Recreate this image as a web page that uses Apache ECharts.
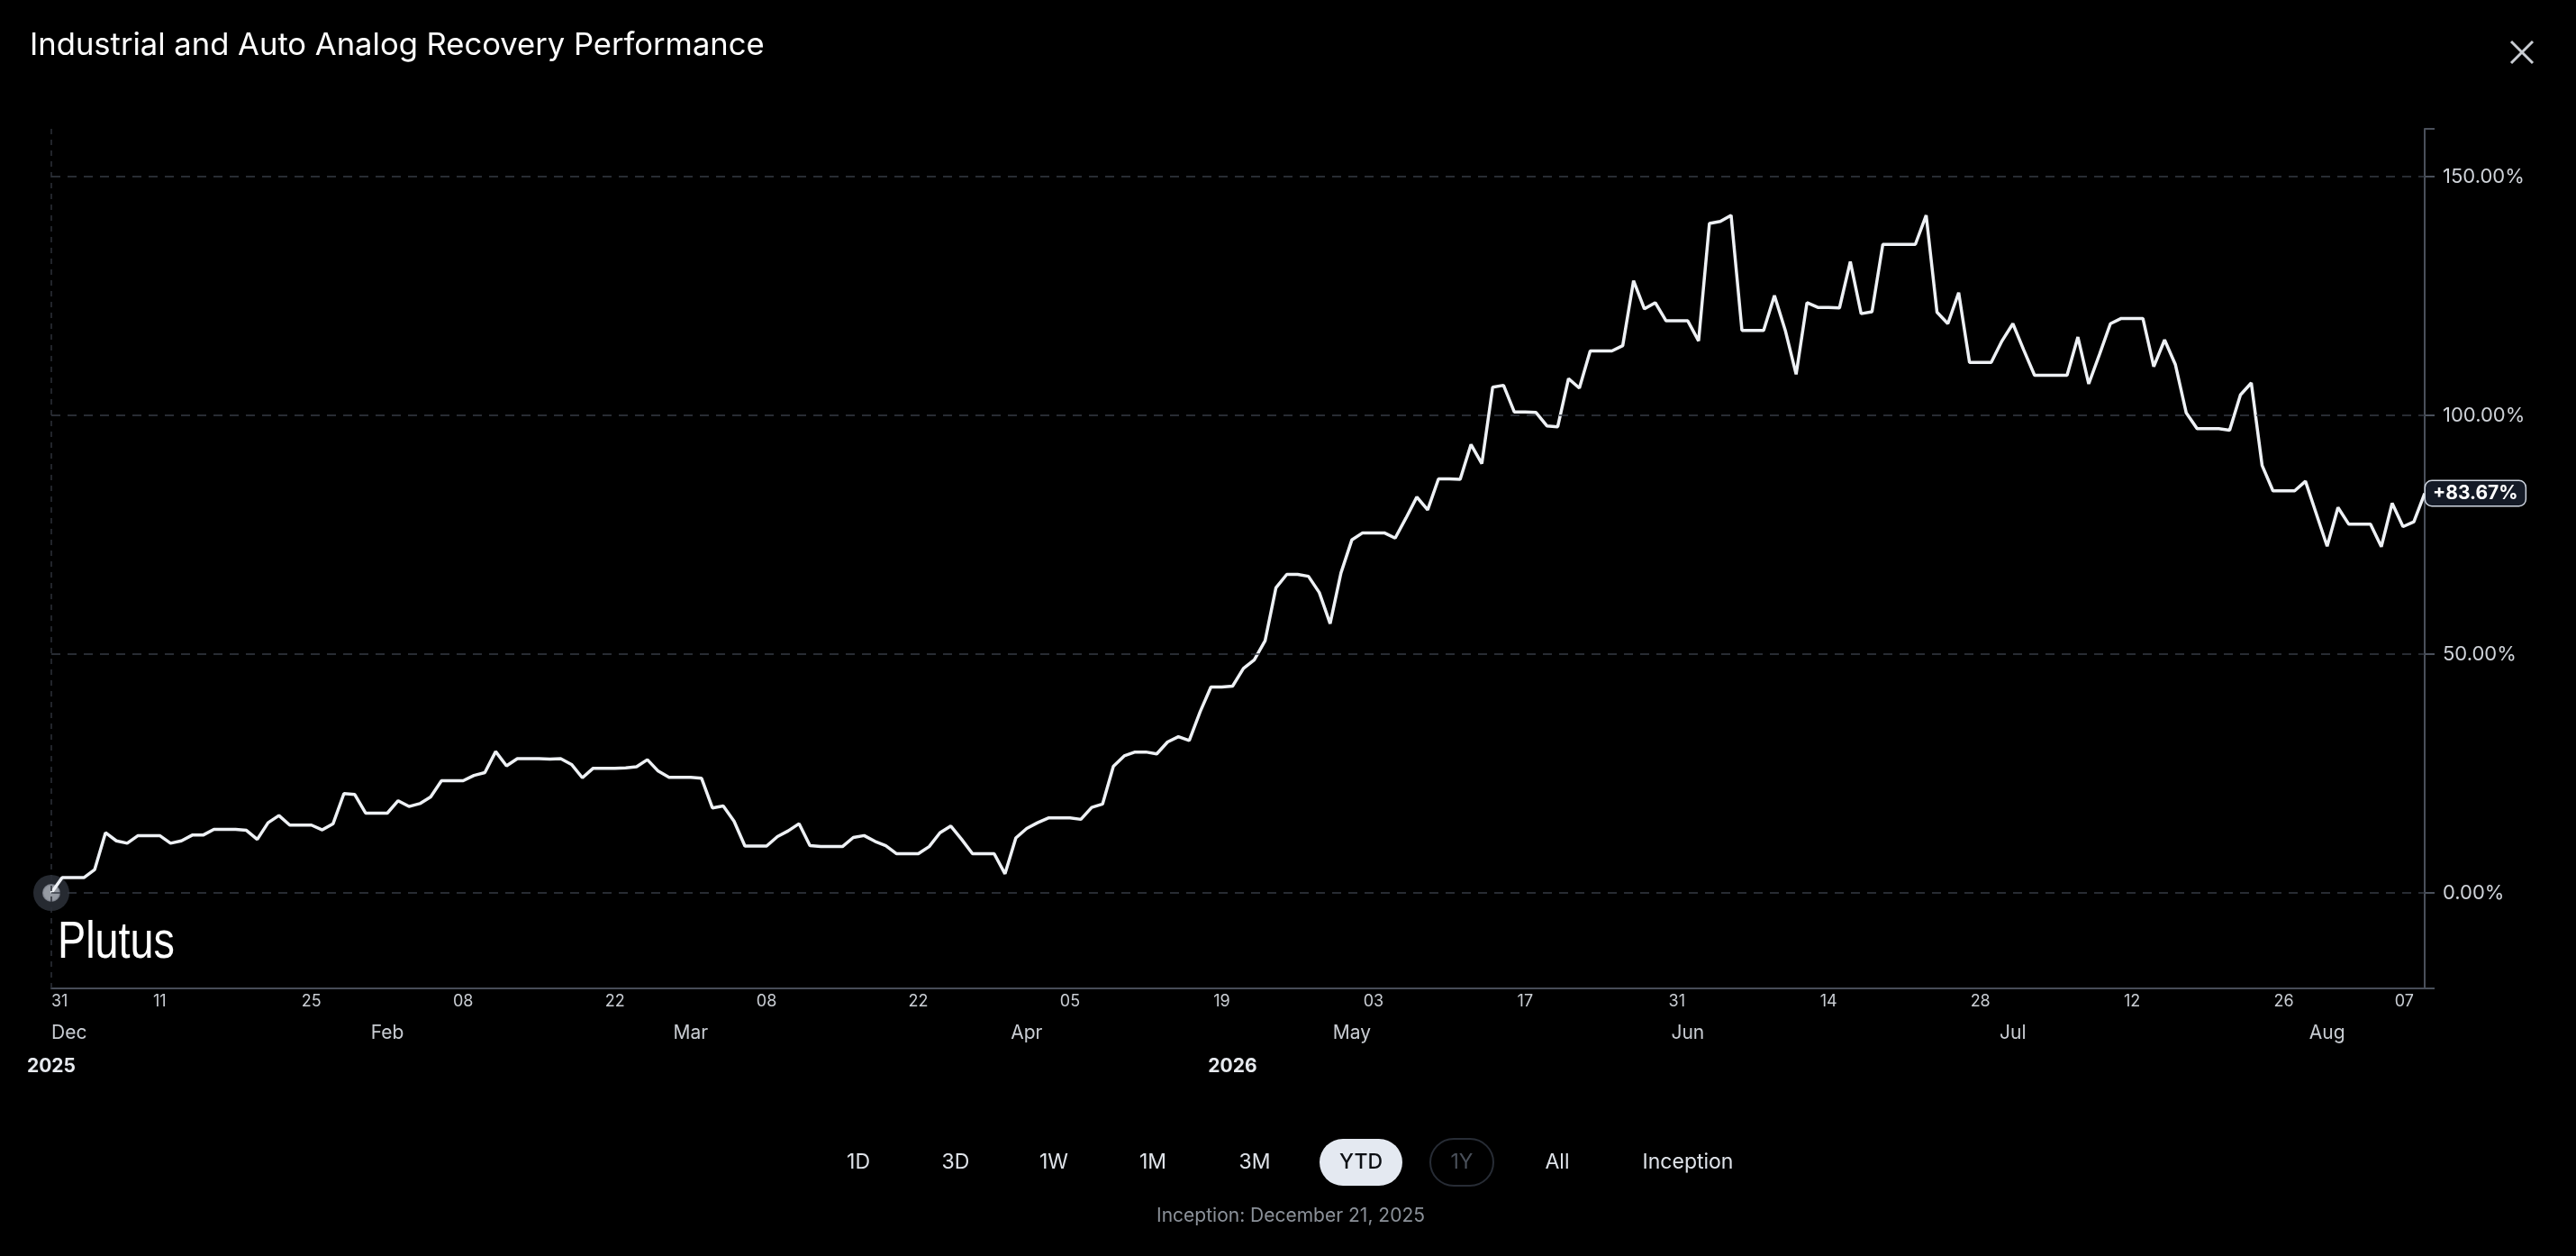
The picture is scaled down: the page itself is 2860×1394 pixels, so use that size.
<!DOCTYPE html>
<html><head><meta charset="utf-8">
<script src="https://cdn.jsdelivr.net/npm/echarts@6/dist/echarts.min.js"></script>
<style>html,body{margin:0;padding:0;background:#000;}#c{width:2860px;height:1394px;}</style>
</head><body><div id="c"></div>
<script>
const chartTitle = 'Industrial and Auto Analog Recovery Performance';
const firstDate = '2026-01-01';
const perfValues = [
  0, 3.2, 3.2, 3.2, 4.9, 12.6, 10.9, 10.4, 12.0, 12.0,
  12.0, 10.4, 10.9, 12.1, 12.1, 13.3, 13.3, 13.3, 13.1, 11.2,
  14.7, 16.2, 14.2, 14.2, 14.2, 13.2, 14.5, 20.8, 20.6, 16.7,
  16.7, 16.7, 19.3, 18.1, 18.7, 20.1, 23.5, 23.5, 23.5, 24.6,
  25.2, 29.6, 26.6, 28.1, 28.1, 28.1, 28.0, 28.1, 26.9, 24.1,
  26.1, 26.1, 26.1, 26.2, 26.4, 27.9, 25.5, 24.2, 24.2, 24.2,
  24.0, 17.8, 18.2, 15.0, 9.8, 9.8, 9.8, 11.8, 13.0, 14.5,
  9.9, 9.7, 9.7, 9.7, 11.6, 12.0, 10.8, 9.9, 8.2, 8.2,
  8.2, 9.7, 12.6, 14.0, 11.2, 8.2, 8.2, 8.2, 4.0, 11.5,
  13.5, 14.7, 15.7, 15.7, 15.7, 15.4, 17.9, 18.6, 26.5, 28.7,
  29.5, 29.5, 29.1, 31.6, 32.7, 31.9, 37.9, 43.1, 43.1, 43.3,
  47.0, 48.8, 52.8, 63.9, 66.7, 66.7, 66.3, 62.9, 56.4, 67.0,
  73.9, 75.4, 75.4, 75.4, 74.3, 78.5, 82.9, 80.2, 86.7, 86.7,
  86.6, 93.9, 89.9, 105.9, 106.3, 100.7, 100.7, 100.6, 97.8, 97.6,
  107.7, 105.7, 113.5, 113.5, 113.5, 114.6, 128.2, 122.3, 123.6, 119.8,
  119.8, 119.8, 115.6, 140.2, 140.6, 141.9, 117.8, 117.8, 117.8, 125.1,
  117.8, 108.6, 123.6, 122.6, 122.6, 122.5, 132.2, 121.3, 121.7, 135.8,
  135.8, 135.8, 135.8, 141.9, 121.6, 119.2, 125.7, 111.1, 111.1, 111.1,
  115.6, 119.2, 113.7, 108.4, 108.4, 108.4, 108.4, 116.4, 106.6, 112.8,
  119.2, 120.3, 120.3, 120.3, 110.2, 115.8, 110.6, 100.5, 97.2, 97.2,
  97.2, 96.9, 104.3, 106.8, 89.5, 84.2, 84.2, 84.2, 86.2, 79.4,
  72.6, 80.7, 77.2, 77.2, 77.2, 72.5, 81.6, 76.7, 77.7, 83.67
];
const dayTickDates = ['2026-01-01','2026-01-11','2026-01-25','2026-02-08','2026-02-22','2026-03-08','2026-03-22','2026-04-05','2026-04-19','2026-05-03','2026-05-17','2026-05-31','2026-06-14','2026-06-28','2026-07-12','2026-07-26','2026-08-07'];
const dayTickLabels = ['31','11','25','08','22','08','22','05','19','03','17','31','14','28','12','26','07'];
const monthTickDates = ['2026-01-01','2026-02-01','2026-03-01','2026-04-01','2026-05-01','2026-06-01','2026-07-01','2026-07-30'];
const monthTickLabels = ['Dec','Feb','Mar','Apr','May','Jun','Jul','Aug'];
const yearTickDates = ['2026-01-01','2026-04-20'];
const yearTickLabels = ['2025','2026'];
const yLabelValues = [0, 50, 100, 150];
const yTickValues = [-20, 0, 50, 100, 150, 160];
const rangeButtons = ['1D','3D','1W','1M','3M','YTD','1Y','All','Inception'];
const activeButton = 'YTD';
const disabledButton = '1Y';
const inceptionText = 'Inception: December 21, 2025';
const watermark = 'Plutus';

function ts(s) { const p = s.split('-').map(Number); return new Date(p[0], p[1] - 1, p[2]).getTime(); }
const fp = firstDate.split('-').map(Number);
const seriesData = perfValues.map((v, i) => [new Date(fp[0], fp[1] - 1, fp[2] + i).getTime(), v]);
const minTs = seriesData[0][0];
const maxTs = seriesData[seriesData.length - 1][0];
function lookup(dates, labels) { const m = {}; dates.forEach((d, i) => { m[ts(d)] = labels[i]; }); return m; }
const dayMap = lookup(dayTickDates, dayTickLabels);
const monthMap = lookup(monthTickDates, monthTickLabels);
const yearMap = lookup(yearTickDates, yearTickLabels);

const FONT = 'Inter, "Noto Sans", sans-serif';
const btnX = [953, 1061, 1170, 1280, 1393, 1511, 1623, 1729, 1874];
const btnY = 1290;
const graphics = [];
rangeButtons.forEach((b, i) => {
  if (b === activeButton) {
    graphics.push({ type: 'rect', shape: { x: btnX[i] - 46, y: btnY - 26, width: 92, height: 52, r: 26 }, style: { fill: '#e4e9f1' }, z: 10 });
  } else if (b === disabledButton) {
    graphics.push({ type: 'rect', shape: { x: btnX[i] - 35, y: btnY - 26, width: 70, height: 52, r: 26 }, style: { fill: 'transparent', stroke: '#272c35', lineWidth: 2 }, z: 10 });
  }
  graphics.push({ type: 'text', z: 11, style: { text: b, x: btnX[i], y: btnY, align: 'center', verticalAlign: 'middle',
    fill: b === activeButton ? '#0c0f14' : (b === disabledButton ? '#4a505a' : '#dfe3e9'),
    font: (b === activeButton ? '500 ' : 'normal ') + '23px ' + FONT } });
});
graphics.push({ type: 'text', z: 11, style: { text: inceptionText, x: 1433, y: 1350, align: 'center', verticalAlign: 'middle', fill: '#8b9199', font: 'normal 21px ' + FONT } });
graphics.push({ type: 'text', z: 11, x: 64, y: 1047, scaleX: 0.82, scaleY: 1, style: { text: watermark, x: 0, y: 0, align: 'left', verticalAlign: 'middle', fill: '#ffffff', font: 'normal 57px "Liberation Sans", Arial, sans-serif' } });
graphics.push({ type: 'line', z: 11, shape: { x1: 2788, y1: 46, x2: 2812, y2: 70 }, style: { stroke: '#c9cdd3', lineWidth: 3 } });
graphics.push({ type: 'line', z: 11, shape: { x1: 2812, y1: 46, x2: 2788, y2: 70 }, style: { stroke: '#c9cdd3', lineWidth: 3 } });

const chart = echarts.init(document.getElementById('c'), null, { renderer: 'canvas' });
const axisBase = { type: 'value', min: minTs, max: maxTs, gridIndex: 0, position: 'bottom', scale: true, splitLine: { show: false }, axisTick: { show: false } };
chart.setOption({
  backgroundColor: '#000000',
  animation: false,
  title: { text: chartTitle, left: 28, top: 28, textStyle: { color: '#ffffff', fontSize: 34.6, fontWeight: 'normal', fontFamily: FONT } },
  grid: { left: 57, right: 168, top: 143, bottom: 297, containLabel: false },
  xAxis: [
    Object.assign({}, axisBase, {
      axisLine: { show: true, onZero: false, lineStyle: { color: '#474c57', width: 2 } },
      axisLabel: { customValues: dayTickDates.map(ts), formatter: v => dayMap[v] || '', color: '#c9cdd3', fontSize: 18, fontFamily: FONT, margin: 6, alignMinLabel: 'left', alignMaxLabel: 'right', hideOverlap: false }
    }),
    Object.assign({}, axisBase, {
      axisLine: { show: false, onZero: false },
      axisLabel: { customValues: monthTickDates.map(ts), formatter: v => monthMap[v] || '', color: '#c9cdd3', fontSize: 21, fontFamily: FONT, margin: 39, alignMinLabel: 'left', hideOverlap: false }
    }),
    Object.assign({}, axisBase, {
      axisLine: { show: false, onZero: false },
      axisLabel: { customValues: yearTickDates.map(ts), formatter: v => yearMap[v] || '', color: '#e6e9ee', fontSize: 21, fontWeight: 'bold', fontFamily: FONT, margin: 76, hideOverlap: false }
    })
  ],
  yAxis: {
    type: 'value', position: 'right', min: -20, max: 160,
    axisLine: { show: true, onZero: false, lineStyle: { color: '#4a505b', width: 2 } },
    axisTick: { show: true, customValues: yTickValues, length: 11, lineStyle: { color: '#4a505b', width: 2 } },
    axisLabel: { customValues: yLabelValues, formatter: v => v.toFixed(2) + '%', color: '#cfd3d9', fontSize: 22, fontFamily: FONT, margin: 20 },
    splitLine: { show: false }
  },
  graphic: graphics,
  series: [
    {
      type: 'scatter', xAxisIndex: 0, data: [seriesData[0]], symbolSize: 40, z: 1, silent: true, clip: false,
      itemStyle: { color: '#30353d' }
    },
    {
      type: 'scatter', xAxisIndex: 0, data: [seriesData[0]], symbolSize: 18, z: 2, silent: true, clip: false,
      itemStyle: { color: '#b3b8c0', borderColor: '#8e949d', borderWidth: 2 }
    },
    {
      type: 'line', xAxisIndex: 0, data: seriesData, showSymbol: false, z: 3, silent: true,
      lineStyle: { color: '#eef1f5', width: 3.5 },
      endLabel: {
        show: true, formatter: p => (p.value[1] >= 0 ? '+' : '') + p.value[1].toFixed(2) + '%',
        color: '#ffffff', fontSize: 21, fontWeight: 'bold', fontFamily: FONT,
        backgroundColor: '#141a26', borderColor: '#cfd6e0', borderWidth: 1.5, borderRadius: 7,
        padding: [3, 8, 3, 8], distance: 1
      },
      markLine: {
        silent: true, symbol: 'none', animation: false,
        label: { show: false },
        lineStyle: { color: '#363b44', width: 1.5, type: [10, 8] },
        data: yLabelValues.map(v => ({ yAxis: v })).concat([{ xAxis: minTs, lineStyle: { color: '#2c3038', width: 1.5, type: [6, 6] } }])
      }
    }
  ]
});
</script></body></html>
